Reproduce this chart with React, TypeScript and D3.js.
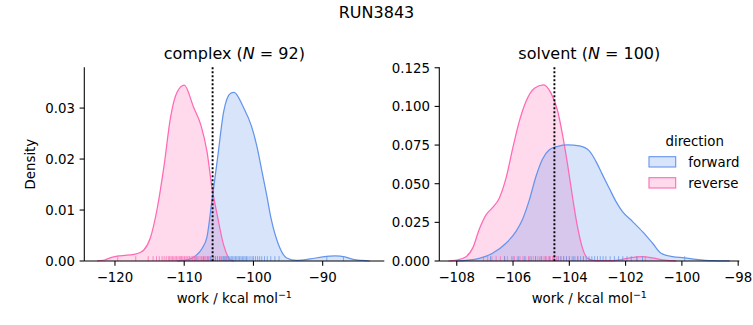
import React from "react";
import * as d3 from "d3";

// ---------- data ----------
const directions = ["forward", "reverse"];

const complexForwardCurve: [number, number][] = [
  [-111.0, 0], [-110.0, 0.0001], [-109.0, 0.0005], [-108.2, 0.0012], [-107.4, 0.0025],
  [-106.7, 0.0048], [-106.0, 0.0118], [-105.2, 0.0200], [-104.3, 0.0293], [-103.3, 0.0329],
  [-102.8, 0.0331], [-101.5, 0.0303], [-100.3, 0.0265], [-99.5, 0.0225], [-98.8, 0.0178],
  [-98.1, 0.0130], [-97.4, 0.0080], [-96.4, 0.0033], [-95.2, 0.0006], [-93.8, 0.0001],
  [-91.8, 0.0004], [-90.0, 0.0008], [-88.2, 0.0010], [-86.8, 0.0008], [-85.6, 0.0003],
  [-84.3, 0.0001], [-83.2, 0],
];
const complexReverseCurve: [number, number][] = [
  [-122.6, 0], [-121.5, 0.0002], [-120.5, 0.0007], [-119.5, 0.0010], [-118.5, 0.0011],
  [-117.3, 0.0013], [-116.3, 0.0017], [-115.8, 0.0022], [-114.9, 0.0045], [-113.9, 0.0103],
  [-112.9, 0.0188], [-112.0, 0.0280], [-111.0, 0.0332], [-110.0, 0.0345], [-108.6, 0.0300],
  [-107.6, 0.0267], [-106.7, 0.0214], [-106.0, 0.0145], [-105.2, 0.0088], [-104.3, 0.0031],
  [-103.3, 0.0002], [-102.8, 0],
];
const solventForwardCurve: [number, number][] = [
  [-108.0, 0], [-107.6, 0.0005], [-107.2, 0.0017], [-106.73, 0.0050], [-106.25, 0.0115],
  [-105.9, 0.0190], [-105.66, 0.0270], [-105.42, 0.0395], [-105.18, 0.0550], [-104.95, 0.0660],
  [-104.71, 0.0719], [-104.41, 0.0742], [-104.06, 0.0751], [-103.64, 0.0745], [-103.29, 0.0712],
  [-103.05, 0.0643], [-102.82, 0.0557], [-102.58, 0.0470], [-102.34, 0.0384], [-102.11, 0.0319],
  [-101.75, 0.0255], [-101.4, 0.0190], [-101.04, 0.0115], [-100.74, 0.0050], [-100.33, 0.0028],
  [-99.91, 0.0021], [-99.5, 0.0011], [-98.9, 0.0002], [-98.3, 0],
];
const solventReverseCurve: [number, number][] = [
  [-108.3, 0], [-108.0, 0.0005], [-107.67, 0.0028], [-107.43, 0.0085], [-107.2, 0.0205],
  [-106.96, 0.0298], [-106.73, 0.0345], [-106.49, 0.0406], [-106.25, 0.0536], [-106.01, 0.0730],
  [-105.78, 0.0902], [-105.54, 0.1032], [-105.24, 0.1118], [-104.92, 0.1140], [-104.65, 0.1086],
  [-104.41, 0.0967], [-104.24, 0.0816], [-104.06, 0.0622], [-103.88, 0.0406], [-103.7, 0.0212],
  [-103.53, 0.0082], [-103.35, 0.0017], [-103.1, 0.0003], [-102.6, 0.0002], [-102.2, 0.0008],
  [-101.8, 0.0022], [-101.4, 0.0028], [-101.0, 0.0018], [-100.6, 0.0005], [-100.2, 0],
];

const complexForwardRug = [
  -108.3, -107.2, -106.6, -106.2, -105.8, -105.5, -105.2, -104.9, -104.6, -104.4, -104.2,
  -104.0, -103.8, -103.6, -103.4, -103.2, -103.0, -102.8, -102.6, -102.4, -102.2, -102.0,
  -101.8, -101.6, -101.4, -101.2, -101.0, -100.8, -100.5, -100.2, -100.0, -99.7, -99.4,
  -99.1, -98.8, -98.4, -98.0, -97.5, -96.9, -96.3, -89.4, -87.0,
];
const complexReverseRug = [
  -119.6, -117.0, -115.2, -114.5, -114.0, -113.6, -113.2, -112.9, -112.6, -112.3, -112.1,
  -111.9, -111.7, -111.5, -111.3, -111.1, -110.9, -110.7, -110.5, -110.4, -110.2, -110.0,
  -109.9, -109.7, -109.5, -109.3, -109.2, -109.0, -108.8, -108.6, -108.5, -108.3, -108.1,
  -107.9, -107.7, -107.5, -107.3, -107.1, -106.9, -106.7, -106.5, -106.3, -106.1, -105.8,
  -105.5, -105.2, -104.8, -104.3, -103.9,
];
const solventForwardRug = [
  -106.8, -106.3, -106.0, -105.8, -105.6, -105.4, -105.2, -105.0, -104.85, -104.7, -104.55,
  -104.4, -104.3, -104.2, -104.1, -104.0, -103.9, -103.8, -103.7, -103.6, -103.5, -103.4,
  -103.3, -103.2, -103.1, -103.0, -102.9, -102.8, -102.7, -102.55, -102.4, -102.25, -102.1,
  -101.95, -101.8, -101.6, -101.4, -99.9,
];
const solventReverseRug = [
  -107.05, -106.9, -106.75, -106.6, -106.45, -106.3, -106.2, -106.05, -105.95, -105.85,
  -105.75, -105.65, -105.55, -105.45, -105.35, -105.28, -105.2, -105.12, -105.05, -104.98,
  -104.9, -104.82, -104.75, -104.68, -104.6, -104.52, -104.45, -104.38, -104.3, -104.2,
  -104.1, -104.0, -103.85, -103.7, -103.5, -101.6, -101.3,
];

const complexXTicks = [-120, -110, -100, -90];
const complexYTicks = [0, 0.01, 0.02, 0.03];
const solventXTicks = [-108, -106, -104, -102, -100, -98];
const solventYTicks = [0, 0.025, 0.05, 0.075, 0.1, 0.125];

const complexMean = -105.9;
const solventMean = -104.53;
const complexN = 92;
const solventN = 100;
const runTitle = "RUN3843";

// ---------- styles ----------
const COLORS: Record<string, string> = { forward: "#6495ED", reverse: "#FF69B4" };
const FONT = "'DejaVu Sans', sans-serif";
const TOP = 67.3;
const BOTTOM = 261;
const TICK = 4.7;
const minus = (s: string) => s.replace(/-/g, "\u2212");

type PanelProps = {
  left: number;
  right: number;
  xDomain: [number, number];
  yDomain: [number, number];
  xTicks: number[];
  yTicks: number[];
  yFmt: string;
  curves: Record<string, [number, number][]>;
  rugs: Record<string, number[]>;
  vline: number;
  name: string;
  n: number;
  yLabel: boolean;
};

function Panel(p: PanelProps) {
  const x = d3.scaleLinear().domain(p.xDomain).range([p.left, p.right]);
  const y = d3.scaleLinear().domain(p.yDomain).range([BOTTOM, TOP]);
  const area = d3
    .area<[number, number]>()
    .x((d) => x(d[0]))
    .y0(y(0))
    .y1((d) => y(d[1]))
    .curve(d3.curveMonotoneX);
  const line = d3
    .line<[number, number]>()
    .x((d) => x(d[0]))
    .y((d) => y(d[1]))
    .curve(d3.curveMonotoneX);
  const fmt = d3.format(p.yFmt);
  const rugH = (BOTTOM - TOP) * 0.025;
  const cx = (p.left + p.right) / 2;
  const order = [...directions].reverse();
  return (
    <g>
      {order.map((k) => (
        <path key={"a" + k} d={area(p.curves[k]) || ""} fill={COLORS[k]} fillOpacity={0.25} stroke="none" />
      ))}
      {order.map((k) => (
        <path key={"l" + k} d={line(p.curves[k]) || ""} fill="none" stroke={COLORS[k]} strokeWidth={1.25} />
      ))}
      {order.map((k) =>
        p.rugs[k].map((v, i) => (
          <line
            key={"r" + k + i}
            x1={x(v)}
            x2={x(v)}
            y1={BOTTOM}
            y2={BOTTOM - rugH}
            stroke={COLORS[k]}
            strokeOpacity={0.75}
            strokeWidth={1}
          />
        ))
      )}
      <line
        x1={x(p.vline)}
        x2={x(p.vline)}
        y1={TOP}
        y2={BOTTOM}
        stroke="#000"
        strokeWidth={1.9}
        strokeDasharray="1.9 2.1"
      />
      {/* spines */}
      <line x1={p.left} x2={p.left} y1={TOP} y2={BOTTOM} stroke="#000" strokeWidth={1.07} />
      <line x1={p.left} x2={p.right} y1={BOTTOM} y2={BOTTOM} stroke="#000" strokeWidth={1.07} />
      {p.xTicks.map((t) => (
        <g key={"xt" + t}>
          <line x1={x(t)} x2={x(t)} y1={BOTTOM} y2={BOTTOM + TICK} stroke="#000" strokeWidth={1.07} />
          <text x={x(t)} y={281.5} textAnchor="middle" fontSize={13.33} fontFamily={FONT} fill="#000">
            {minus(String(t))}
          </text>
        </g>
      ))}
      {p.yTicks.map((t) => (
        <g key={"yt" + t}>
          <line x1={p.left - TICK} x2={p.left} y1={y(t)} y2={y(t)} stroke="#000" strokeWidth={1.07} />
          <text
            x={p.left - 2 * TICK}
            y={y(t)}
            dy="0.36em"
            textAnchor="end"
            fontSize={13.33}
            fontFamily={FONT}
            fill="#000"
          >
            {fmt(t)}
          </text>
        </g>
      ))}
      <text x={cx} y={59} textAnchor="middle" fontSize={16} fontFamily={FONT} fill="#000">
        {p.name + " ("}
        <tspan fontStyle="italic">N</tspan>
        {" = " + p.n + ")"}
      </text>
      <text x={cx} y={303} textAnchor="middle" fontSize={13.33} fontFamily={FONT} fill="#000">
        {"work / kcal mol"}
        <tspan fontSize={9.5} dy={-5.5}>
          {"\u22121"}
        </tspan>
      </text>
      {p.yLabel && (
        <text
          transform={`translate(34.5,${(TOP + BOTTOM) / 2}) rotate(-90)`}
          textAnchor="middle"
          fontSize={13.33}
          fontFamily={FONT}
          fill="#000"
        >
          Density
        </text>
      )}
    </g>
  );
}

export default function App() {
  const legendX = 649;
  const legendRows = [156.7, 177.7];
  return (
    <svg
      width={753}
      height={325}
      viewBox="0 0 753 325"
      style={{ position: "absolute", left: 0, top: 0, background: "#fff" }}
    >
      <rect x={0} y={0} width={753} height={325} fill="#fff" />
      <text x={376.5} y={17.5} textAnchor="middle" fontSize={16} fontFamily={FONT} fill="#000">
        {runTitle}
      </text>
      <Panel
        left={84.3}
        right={384.3}
        xDomain={[-124.43, -81.1]}
        yDomain={[0, 0.038]}
        xTicks={complexXTicks}
        yTicks={complexYTicks}
        yFmt=".2f"
        curves={{ forward: complexForwardCurve, reverse: complexReverseCurve }}
        rugs={{ forward: complexForwardRug, reverse: complexReverseRug }}
        vline={complexMean}
        name="complex"
        n={complexN}
        yLabel={true}
      />
      <Panel
        left={439.3}
        right={739.3}
        xDomain={[-108.62, -97.96]}
        yDomain={[0, 0.1253]}
        xTicks={solventXTicks}
        yTicks={solventYTicks}
        yFmt=".3f"
        curves={{ forward: solventForwardCurve, reverse: solventReverseCurve }}
        rugs={{ forward: solventForwardRug, reverse: solventReverseRug }}
        vline={solventMean}
        name="solvent"
        n={solventN}
        yLabel={false}
      />
      <text x={694.7} y={146} textAnchor="middle" fontSize={13.33} fontFamily={FONT} fill="#000">
        direction
      </text>
      {directions.map((k, i) => (
        <g key={"lg" + k}>
          <rect
            x={legendX}
            y={legendRows[i]}
            width={26.7}
            height={10.3}
            fill={COLORS[k]}
            fillOpacity={0.25}
            stroke={COLORS[k]}
            strokeWidth={1.1}
          />
          <text x={688.3} y={legendRows[i] + 9.8} fontSize={13.33} fontFamily={FONT} fill="#000">
            {k}
          </text>
        </g>
      ))}
    </svg>
  );
}
